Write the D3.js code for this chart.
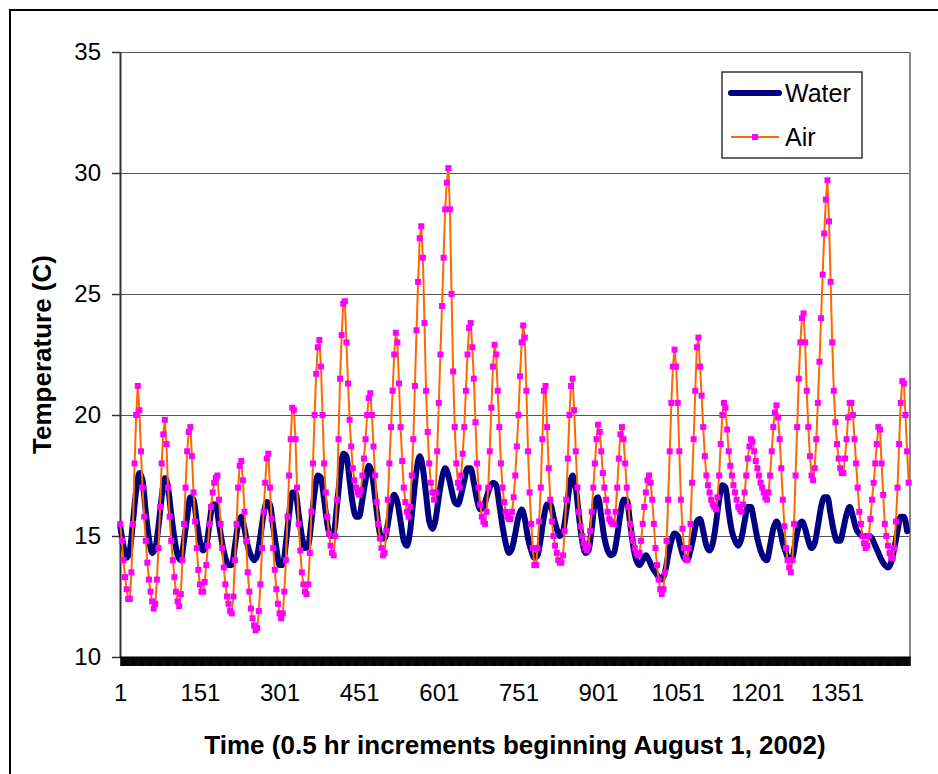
<!DOCTYPE html>
<html><head><meta charset="utf-8">
<script src="https://cdn.jsdelivr.net/npm/d3@7"></script>
<style>
html,body{margin:0;padding:0;background:#fff;}
text{font-family:"Liberation Sans",Arial,sans-serif;}
</style></head>
<body><svg id="chart" width="938" height="774"></svg>
<script>
// ---- data ----
const nPoints = 1488;                       // half-hour readings
const waterIndex = d3.range(1, nPoints, 6); // water sampled every 6 readings
const airIndex = d3.range(1, nPoints, 3);   // air sampled every 3 readings
const waterTemp = [
15.4,14.6,14.1,14.4,15.6,16.9,17.6,17.3,
16.0,14.9,14.3,14.5,15.4,16.6,17.4,17.0,
15.9,14.9,14.2,14.0,14.8,15.8,16.6,16.5,
15.6,14.8,14.4,14.6,15.5,16.3,16.3,15.5,
14.7,14.1,13.8,13.8,14.6,15.5,15.8,15.3,
14.6,14.2,14.0,14.2,15.0,15.9,16.4,16.3,
15.4,14.5,13.8,13.8,14.7,15.9,16.8,16.8,
15.9,15.0,14.5,14.6,15.6,16.8,17.5,17.4,
16.5,15.5,15.0,15.1,16.2,17.5,18.4,18.3,
17.3,16.3,15.8,15.8,16.5,17.3,17.9,17.6,
16.6,15.5,14.9,14.9,15.5,16.3,16.7,16.4,
15.6,14.8,14.6,15.2,16.5,17.7,18.3,17.8,
16.7,15.6,15.3,15.7,16.6,17.4,17.8,17.5,
16.9,16.4,16.3,16.7,17.3,17.8,17.8,17.2,
16.5,16.1,16.2,16.6,17.0,17.2,17.1,16.3,
15.4,14.7,14.3,14.5,15.1,15.8,16.1,15.7,
14.9,14.4,14.1,14.2,14.9,15.8,16.3,16.3,
15.8,15.3,15.0,15.2,16.0,17.0,17.5,17.0,
15.8,14.8,14.3,14.4,15.3,16.4,16.6,15.8,
14.9,14.4,14.2,14.3,15.0,15.9,16.5,16.5,
15.6,14.6,14.0,13.8,14.0,14.2,14.0,13.7,
13.5,13.3,13.2,13.5,14.2,14.8,15.1,15.0,
14.5,14.1,14.0,14.4,15.0,15.6,15.7,15.2,
14.6,14.4,14.7,15.5,16.5,17.1,17.0,16.0,
15.2,14.8,14.6,14.9,15.6,16.2,16.2,15.6,
14.9,14.4,14.1,14.0,14.6,15.3,15.6,15.3,
14.7,14.3,14.0,14.1,14.8,15.4,15.6,15.3,
14.8,14.5,14.7,15.4,16.2,16.6,16.6,15.9,
15.2,14.8,14.8,15.3,15.9,16.2,15.8,15.3,
15.1,15.0,15.0,15.0,14.9,14.6,14.3,14.0,
13.8,13.7,13.9,14.5,15.2,15.8,15.8,15.2
];
const airTemp = [
15.5,14.8,14.0,13.3,12.8,12.4,12.4,13.5,15.5,18.0,20.0,21.2,20.2,18.5,17.0,15.8,
14.8,13.9,13.2,12.7,12.3,12.0,12.2,13.2,14.5,16.2,18.0,19.2,19.8,18.8,17.0,15.8,
14.8,14.0,13.3,12.7,12.3,12.1,12.6,14.0,15.5,17.0,18.5,19.3,19.5,18.3,16.8,15.6,
14.5,13.6,13.0,12.7,12.7,13.1,13.8,14.6,15.5,16.2,16.8,17.2,17.4,17.5,16.5,15.5,
14.5,13.7,13.0,12.5,12.2,11.9,11.8,12.5,14.0,15.5,17.0,17.9,18.1,17.3,16.0,14.8,
13.5,12.7,12.0,11.6,11.3,11.1,11.2,11.9,13.0,14.5,16.0,17.2,18.2,18.4,17.0,15.7,
14.5,13.6,12.8,12.2,11.8,11.6,11.8,12.7,14.0,15.8,17.5,19.0,20.3,20.2,19.0,17.0,
15.5,14.4,13.5,13.0,12.7,12.6,13.0,14.3,16.0,18.0,20.0,21.7,22.8,23.1,22.0,20.0,
18.0,16.8,15.8,15.1,14.6,14.3,14.2,15.0,16.5,19.0,21.5,23.3,24.6,24.7,23.0,21.3,
19.8,18.7,17.8,17.3,17.0,16.8,16.7,16.9,17.5,18.2,19.0,20.0,20.7,20.9,20.0,18.7,
17.5,16.4,15.5,14.9,14.5,14.2,14.3,15.2,16.5,18.0,19.5,21.0,22.5,23.4,23.0,21.3,
19.5,18.1,17.0,16.4,16.0,15.8,16.2,17.5,19.0,21.2,23.5,25.5,27.3,27.8,26.5,23.8,
21.0,19.3,18.0,17.2,16.8,16.5,16.8,18.5,20.5,22.5,24.5,26.5,28.5,29.6,30.2,28.5,
25.0,21.8,19.5,18.0,17.2,17.0,17.5,18.4,19.5,21.0,22.5,23.6,23.8,22.8,21.5,19.7,
18.0,17.0,16.3,15.8,15.6,15.5,16.0,17.0,18.5,20.3,22.0,22.9,22.5,21.0,19.5,18.0,
17.0,16.4,16.0,15.8,15.7,15.7,16.0,16.6,17.5,18.7,20.0,21.6,23.0,23.7,23.2,21.0,
18.5,16.8,15.5,14.5,13.8,13.8,14.5,15.6,17.0,19.0,21.0,21.2,19.5,17.8,16.5,15.6,
15.0,14.6,14.3,14.0,13.9,13.9,14.2,15.2,16.5,18.2,20.0,21.2,21.5,20.2,18.5,17.0,
16.0,15.4,15.0,14.7,14.5,14.4,14.6,15.2,16.0,17.0,18.0,19.0,19.6,19.3,18.5,17.6,
17.0,16.5,16.0,15.7,15.6,15.5,15.5,16.0,17.0,18.2,19.2,19.5,19.0,18.0,17.0,16.2,
15.5,15.1,14.8,14.5,14.3,14.2,14.3,14.8,15.5,16.2,16.8,17.3,17.5,17.2,16.5,15.5,
14.5,13.8,13.2,12.8,12.6,12.8,13.5,14.8,16.5,18.5,20.5,22.0,22.7,22.0,20.5,18.5,
16.5,15.3,14.5,14.1,14.0,14.5,15.5,17.2,19.0,21.0,22.8,23.2,22.0,20.8,19.5,18.3,
17.5,17.1,16.8,16.5,16.3,16.2,16.1,16.6,17.5,18.8,20.0,20.5,20.3,19.4,18.5,17.9,
17.5,17.1,16.8,16.5,16.2,16.1,16.0,16.3,16.8,17.5,18.2,18.7,19.0,18.9,18.5,18.1,
17.8,17.5,17.2,17.0,16.8,16.6,16.5,16.8,17.5,18.5,19.5,20.1,20.4,19.9,19.0,17.8,
16.5,15.4,14.5,14.0,13.7,13.5,14.0,15.5,17.5,19.5,21.5,23.0,24.0,24.2,23.0,21.0,
19.5,18.3,17.5,17.3,17.8,19.0,20.5,22.2,24.0,25.8,27.5,28.9,29.7,28.0,25.5,23.0,
21.0,19.7,18.8,18.2,17.8,17.6,17.6,18.2,19.0,19.9,20.5,20.5,20.0,19.0,18.0,17.0,
16.0,15.5,15.0,14.7,14.5,14.6,15.0,15.7,16.5,17.2,18.0,18.8,19.5,19.4,18.0,16.7,
15.5,15.0,14.6,14.3,14.1,14.1,14.5,15.6,17.0,18.8,20.5,21.4,21.3,20.0,18.5,17.2
];
const xTickLabels = [1,151,301,451,601,751,901,1051,1201,1351];
const yTicks = [10,15,20,25,30,35];
const seriesNames = ["Water","Air"];
const colors = {water:"#000080", airLine:"#FF6600", airMarker:"#FF00FF"};

// ---- layout ----
const svg = d3.select("#chart");
const L = 120, R = 910, T = 52, B = 657;
const x = d3.scaleLinear().domain([0.5, nPoints + 0.5]).range([L, R]);
const y = d3.scaleLinear().domain([10, 35]).range([B, T]);

// outer border
svg.append("rect").attr("x",10).attr("y",10).attr("width",940).attr("height",780)
  .attr("fill","none").attr("stroke","#000").attr("stroke-width",2);

// gridlines
svg.append("g").attr("transform",`translate(${L},0)`)
  .call(d3.axisLeft(y).tickValues(yTicks.filter(v=>v>10)).tickSize(-(R-L)).tickFormat(""))
  .call(g=>g.select(".domain").remove())
  .call(g=>g.selectAll("line").attr("stroke","#555").attr("stroke-width",1.2));

// plot right border
svg.append("line").attr("x1",R).attr("x2",R).attr("y1",T).attr("y2",B)
  .attr("stroke","#888").attr("stroke-width",2);

// y axis
svg.append("g").attr("transform",`translate(${L},0)`)
  .call(d3.axisLeft(y).tickValues(yTicks).tickSize(8).tickPadding(11).tickSizeOuter(0))
  .call(g=>g.select(".domain").attr("stroke","#333").attr("stroke-width",2))
  .call(g=>g.selectAll("line").attr("stroke","#333").attr("stroke-width",1.5))
  .call(g=>g.selectAll("text").attr("font-size",24).attr("fill","#000")
    .attr("font-family","'Liberation Sans',Arial,sans-serif"));

// series
const waterData = waterIndex.map((i,k)=>({i, v: waterTemp[k]}));
const airData = airIndex.map((i,k)=>({i, v: airTemp[k]}));
const plot = svg.append("g");
plot.append("path").datum(waterData)
  .attr("d", d3.line().x(d=>x(d.i)).y(d=>y(d.v)).curve(d3.curveMonotoneX))
  .attr("fill","none").attr("stroke",colors.water).attr("stroke-width",6)
  .attr("stroke-linejoin","round").attr("stroke-linecap","round");
plot.append("path").datum(airData)
  .attr("d", d3.line().x(d=>x(d.i)).y(d=>y(d.v)))
  .attr("fill","none").attr("stroke",colors.airLine).attr("stroke-width",2);
const ms = 6;
plot.selectAll("rect.m").data(airData).join("rect").attr("class","m")
  .attr("x",d=>x(d.i)-ms/2).attr("y",d=>y(d.v)-ms/2)
  .attr("width",ms).attr("height",ms).attr("fill",colors.airMarker);

// x axis: dense category ticks form the black band
svg.append("g").attr("transform",`translate(0,${B})`)
  .call(d3.axisBottom(x).tickValues(d3.range(1, nPoints+1)).tickSize(9).tickFormat("").tickSizeOuter(0))
  .call(g=>g.select(".domain").attr("stroke","#000").attr("stroke-width",2))
  .call(g=>g.selectAll(".tick line").attr("stroke","#000").attr("stroke-width",1));
svg.append("g").attr("transform",`translate(0,${B})`)
  .call(d3.axisBottom(x).tickValues(xTickLabels).tickFormat(d3.format("d")).tickSize(0).tickPadding(27))
  .call(g=>g.select(".domain").remove())
  .call(g=>g.selectAll("text").attr("font-size",24).attr("fill","#000")
    .attr("font-family","'Liberation Sans',Arial,sans-serif"));

// axis titles
svg.append("text").attr("x",(L+R)/2).attr("y",754).attr("text-anchor","middle")
  .attr("font-size",26).attr("font-weight","bold").text("Time (0.5 hr increments beginning August 1, 2002)");
svg.append("text").attr("transform",`translate(51,${(T+B)/2}) rotate(-90)`).attr("text-anchor","middle")
  .attr("font-size",26).attr("font-weight","bold").text("Temperature (C)");

// legend
const lg = svg.append("g");
lg.append("rect").attr("x",722).attr("y",72).attr("width",140).attr("height",86)
  .attr("fill","#fff").attr("stroke","#333").attr("stroke-width",1.5);
lg.append("line").attr("x1",731).attr("x2",779).attr("y1",93).attr("y2",93)
  .attr("stroke",colors.water).attr("stroke-width",6).attr("stroke-linecap","round");
lg.append("text").attr("x",785).attr("y",102).attr("font-size",25).text(seriesNames[0]);
lg.append("line").attr("x1",731).attr("x2",779).attr("y1",137).attr("y2",137)
  .attr("stroke",colors.airLine).attr("stroke-width",2);
lg.append("rect").attr("x",755-ms/2).attr("y",137-ms/2).attr("width",ms).attr("height",ms).attr("fill",colors.airMarker);
lg.append("text").attr("x",785).attr("y",146).attr("font-size",25).text(seriesNames[1]);
</script></body></html>
